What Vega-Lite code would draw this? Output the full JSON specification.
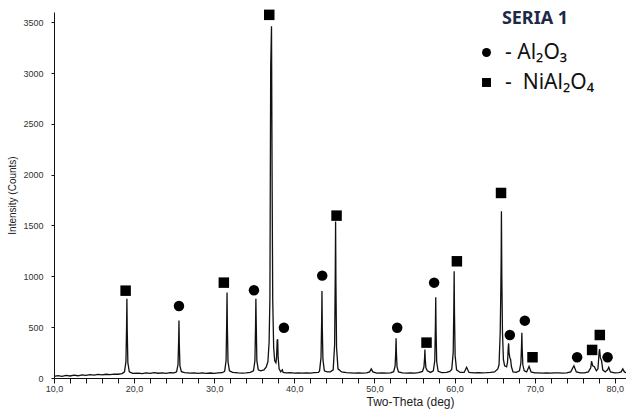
{
  "$schema": "https://vega.github.io/schema/vega-lite/v6.json",
  "autosize": {"type": "none"},
  "padding": {"left": 54, "top": 12, "right": 0, "bottom": 32},
  "width": 572,
  "height": 366,
  "background": "white",
  "config": {
    "view": {"stroke": null},
    "axis": {"labelFont": "Liberation Sans", "titleFont": "Liberation Sans", "labelColor": "#333", "titleColor": "#222", "domainColor": "#111", "tickColor": "#111", "grid": false, "titleFontWeight": "normal"}
  },
  "datasets": {
    "scan": [
      {"t":10.0,"c":15},{"t":10.5,"c":24},{"t":11.0,"c":16},{"t":11.5,"c":26},{"t":12.0,"c":20},{"t":12.5,"c":29},{"t":13.0,"c":22},{"t":13.5,"c":31},{"t":14.0,"c":25},{"t":14.5,"c":33},{"t":15.0,"c":28},{"t":15.5,"c":36},{"t":16.0,"c":30},{"t":16.5,"c":37},{"t":17.0,"c":33},{"t":17.5,"c":39},{"t":18.0,"c":37},{"t":18.5,"c":43},
      {"t":18.8,"c":60},{"t":18.98,"c":160},{"t":19.06,"c":510},{"t":19.1,"c":780},{"t":19.14,"c":470},{"t":19.22,"c":150},{"t":19.4,"c":60},
      {"t":19.8,"c":45},{"t":20.5,"c":48},{"t":21.0,"c":44},{"t":21.5,"c":50},{"t":22.0,"c":46},{"t":22.5,"c":52},{"t":23.0,"c":47},{"t":23.5,"c":51},{"t":24.0,"c":46},{"t":24.5,"c":52},{"t":25.0,"c":50},
      {"t":25.3,"c":60},{"t":25.48,"c":130},{"t":25.56,"c":370},{"t":25.6,"c":565},{"t":25.64,"c":340},{"t":25.72,"c":120},{"t":25.9,"c":62},
      {"t":26.3,"c":52},{"t":27.0,"c":48},{"t":27.5,"c":51},{"t":28.0,"c":46},{"t":28.5,"c":50},{"t":29.0,"c":46},{"t":29.5,"c":49},{"t":30.0,"c":45},{"t":30.5,"c":50},{"t":31.0,"c":52},
      {"t":31.3,"c":65},{"t":31.48,"c":170},{"t":31.56,"c":560},{"t":31.6,"c":840},{"t":31.64,"c":510},{"t":31.72,"c":160},{"t":31.9,"c":70},
      {"t":32.3,"c":55},{"t":33.0,"c":50},{"t":33.5,"c":48},{"t":34.0,"c":51},{"t":34.5,"c":55},
      {"t":34.9,"c":70},{"t":35.08,"c":170},{"t":35.16,"c":520},{"t":35.2,"c":780},{"t":35.24,"c":560},{"t":35.32,"c":170},{"t":35.5,"c":80},
      {"t":35.8,"c":70},{"t":36.2,"c":80},{"t":36.5,"c":110},{"t":36.7,"c":160},
      {"t":36.85,"c":350},{"t":36.95,"c":780},{"t":37.05,"c":3060},{"t":37.15,"c":3460},{"t":37.22,"c":2050},{"t":37.3,"c":780},{"t":37.42,"c":300},{"t":37.55,"c":170},{"t":37.7,"c":150},
      {"t":37.78,"c":200},{"t":37.86,"c":370},{"t":37.92,"c":380},{"t":37.98,"c":200},{"t":38.1,"c":90},{"t":38.3,"c":60},{"t":38.5,"c":80},{"t":38.6,"c":55},
      {"t":39.0,"c":50},{"t":39.5,"c":52},{"t":40.0,"c":48},{"t":40.5,"c":50},{"t":41.0,"c":48},{"t":41.5,"c":51},{"t":42.0,"c":48},{"t":42.5,"c":52},{"t":43.0,"c":55},
      {"t":43.15,"c":70},{"t":43.33,"c":200},{"t":43.41,"c":560},{"t":43.45,"c":855},{"t":43.49,"c":500},{"t":43.57,"c":180},{"t":43.75,"c":70},
      {"t":44.1,"c":60},{"t":44.5,"c":60},
      {"t":44.85,"c":80},{"t":45.03,"c":330},{"t":45.11,"c":1040},{"t":45.15,"c":1540},{"t":45.19,"c":950},{"t":45.27,"c":300},{"t":45.45,"c":90},
      {"t":45.9,"c":60},{"t":46.5,"c":52},{"t":47.0,"c":50},{"t":47.5,"c":48},{"t":48.0,"c":50},{"t":48.5,"c":48},{"t":49.0,"c":50},{"t":49.4,"c":60},{"t":49.6,"c":90},{"t":49.8,"c":60},
      {"t":50.3,"c":48},{"t":51.0,"c":50},{"t":51.5,"c":48},{"t":52.0,"c":50},
      {"t":52.4,"c":62},{"t":52.58,"c":120},{"t":52.66,"c":260},{"t":52.7,"c":390},{"t":52.74,"c":250},{"t":52.82,"c":110},{"t":53.0,"c":60},
      {"t":53.5,"c":50},{"t":54.0,"c":48},{"t":54.5,"c":50},{"t":55.0,"c":48},{"t":55.5,"c":52},
      {"t":56.0,"c":65},{"t":56.18,"c":110},{"t":56.26,"c":200},{"t":56.3,"c":280},{"t":56.34,"c":190},{"t":56.42,"c":100},{"t":56.6,"c":70},
      {"t":57.0,"c":55},{"t":57.35,"c":70},{"t":57.53,"c":170},{"t":57.61,"c":520},{"t":57.65,"c":795},{"t":57.69,"c":480},{"t":57.77,"c":160},{"t":57.95,"c":65},
      {"t":58.4,"c":52},{"t":59.0,"c":55},{"t":59.4,"c":65},
      {"t":59.65,"c":85},{"t":59.83,"c":250},{"t":59.91,"c":700},{"t":59.95,"c":1050},{"t":59.99,"c":640},{"t":60.07,"c":220},{"t":60.25,"c":80},
      {"t":60.7,"c":55},{"t":61.2,"c":55},{"t":61.5,"c":105},{"t":61.8,"c":55},{"t":62.5,"c":50},{"t":63.0,"c":52},{"t":63.5,"c":50},{"t":64.0,"c":52},{"t":64.5,"c":55},{"t":65.0,"c":60},{"t":65.4,"c":90},
      {"t":65.55,"c":130},{"t":65.7,"c":450},{"t":65.78,"c":900},{"t":65.82,"c":1200},{"t":65.85,"c":1640},{"t":65.9,"c":1000},{"t":65.98,"c":450},{"t":66.1,"c":180},{"t":66.25,"c":120},
      {"t":66.5,"c":110},{"t":66.62,"c":160},{"t":66.7,"c":300},{"t":66.75,"c":340},{"t":66.8,"c":250},{"t":66.9,"c":200},{"t":67.0,"c":180},{"t":67.1,"c":110},{"t":67.3,"c":60},
      {"t":67.7,"c":55},
      {"t":68.1,"c":70},{"t":68.28,"c":150},{"t":68.36,"c":320},{"t":68.4,"c":445},{"t":68.44,"c":300},{"t":68.52,"c":130},{"t":68.7,"c":70},
      {"t":69.0,"c":60},{"t":69.3,"c":115},{"t":69.55,"c":60},{"t":70.0,"c":50},{"t":70.5,"c":50},{"t":71.0,"c":48},{"t":71.5,"c":50},{"t":72.0,"c":48},{"t":72.5,"c":50},{"t":73.0,"c":50},{"t":73.5,"c":48},{"t":74.0,"c":50},{"t":74.5,"c":60},{"t":74.9,"c":120},{"t":75.2,"c":60},
      {"t":75.7,"c":50},{"t":76.2,"c":50},{"t":76.7,"c":60},{"t":77.0,"c":100},{"t":77.1,"c":165},{"t":77.25,"c":120},{"t":77.45,"c":110},{"t":77.7,"c":70},{"t":77.9,"c":90},{"t":78.05,"c":260},{"t":78.1,"c":285},{"t":78.2,"c":200},{"t":78.35,"c":170},{"t":78.5,"c":80},
      {"t":78.8,"c":60},{"t":79.1,"c":80},{"t":79.25,"c":105},{"t":79.45,"c":60},{"t":80.0,"c":50},{"t":80.5,"c":52},{"t":80.8,"c":60},{"t":81.0,"c":90},{"t":81.2,"c":60},{"t":81.4,"c":52}
    ],
    "markers": [
      {"t":25.6,"c":708,"phase":"Al₂O₃"},
      {"t":34.96,"c":863,"phase":"Al₂O₃"},
      {"t":38.7,"c":495,"phase":"Al₂O₃"},
      {"t":43.48,"c":1007,"phase":"Al₂O₃"},
      {"t":52.84,"c":495,"phase":"Al₂O₃"},
      {"t":57.45,"c":938,"phase":"Al₂O₃"},
      {"t":66.9,"c":423,"phase":"Al₂O₃"},
      {"t":68.77,"c":564,"phase":"Al₂O₃"},
      {"t":75.3,"c":204,"phase":"Al₂O₃"},
      {"t":79.1,"c":204,"phase":"Al₂O₃"},
      {"t":18.94,"c":859,"phase":"NiAl₂O₄"},
      {"t":31.2,"c":938,"phase":"NiAl₂O₄"},
      {"t":36.87,"c":3572,"phase":"NiAl₂O₄"},
      {"t":45.27,"c":1597,"phase":"NiAl₂O₄"},
      {"t":56.5,"c":348,"phase":"NiAl₂O₄"},
      {"t":60.29,"c":1148,"phase":"NiAl₂O₄"},
      {"t":65.8,"c":1820,"phase":"NiAl₂O₄"},
      {"t":69.73,"c":204,"phase":"NiAl₂O₄"},
      {"t":77.17,"c":276,"phase":"NiAl₂O₄"},
      {"t":78.13,"c":423,"phase":"NiAl₂O₄"}
    ]
  },
  "encoding": {
    "x": {"field": "t", "type": "quantitative", "scale": {"domain": [10, 81.4], "nice": false, "zero": false},
      "axis": {"title": "Two-Theta (deg)", "titleFontSize": 12, "titleX": 356, "titleY": 18, "titleAlign": "center", "titleBaseline": "top",
        "values": [10,12,14,16,18,20,22,24,26,28,30,32,34,36,38,40,42,44,46,48,50,52,54,56,58,60,62,64,66,68,70,72,74,76,78,80],
        "labelExpr": "datum.value % 10 == 0 ? replace(format(datum.value, '.1f'), '.', ',') : ''",
        "labelFontSize": 9, "tickSize": 5, "labelPadding": 1, "labelFlush": false, "labelOverlap": false}},
    "y": {"field": "c", "type": "quantitative", "scale": {"domain": [0, 3600], "nice": false},
      "axis": {"title": "Intensity (Counts)", "titleFontSize": 10, "titleX": -42, "titleBaseline": "middle", "format": "d",
        "values": [0,500,1000,1500,2000,2500,3000,3500], "labelFontSize": 9, "tickSize": 3, "labelPadding": 8}}
  },
  "layer": [
    {
      "data": {"name": "scan"},
      "mark": {"type": "line", "color": "#111", "strokeWidth": 1.3, "interpolate": "linear"}
    },
    {
      "data": {"name": "markers"},
      "mark": {"type": "point", "filled": true, "color": "black", "opacity": 1, "size": 110, "clip": false},
      "encoding": {
        "shape": {"field": "phase", "type": "nominal",
          "scale": {"domain": ["Al₂O₃", "NiAl₂O₄"], "range": ["circle", "square"]},
          "legend": {"title": "SERIA 1", "orient": "none", "legendX": 422, "legendY": -2, "padding": 0,
            "titleFont": "Noto Sans", "titleFontWeight": "bold", "titleFontSize": 18, "titleColor": "#1c2a48", "titleAnchor": "middle", "titlePadding": 14,
            "labelFont": "Noto Sans", "labelFontSize": 21, "labelColor": "#111", "labelOffset": 8, "labelLimit": 300,
            "labelExpr": "datum.label == 'Al₂O₃' ? '- Al₂O₃' : '-\u00a0\u00a0NiAl₂O₄'",
            "symbolSize": 80, "symbolFillColor": "black", "symbolStrokeColor": "black", "symbolStrokeWidth": 0, "rowPadding": 8}}
      }
    }
  ]
}
